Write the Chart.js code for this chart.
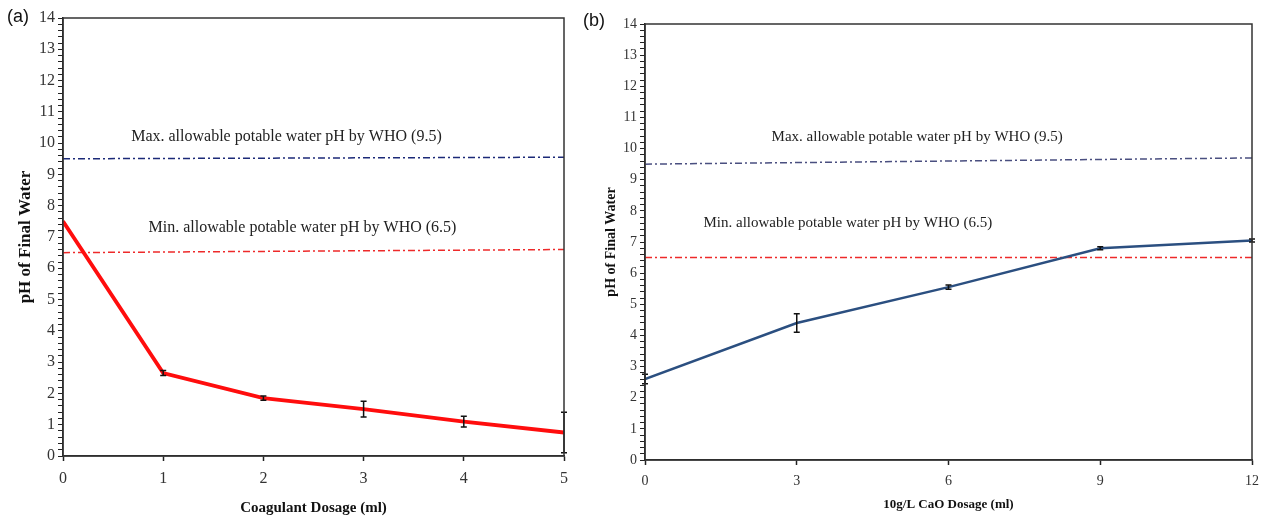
<!DOCTYPE html>
<html><head><meta charset="utf-8">
<script src="https://cdn.jsdelivr.net/npm/chart.js@4/dist/chart.umd.min.js"></script>
<style>
body{margin:0;background:#fff;width:1267px;height:521px;position:relative;overflow:hidden}
.panel{position:absolute;top:0;height:521px}
#pa{left:0;width:580px}
#pb{left:575px;width:692px}
</style></head><body>
<div class="panel" id="pa"><canvas id="ca"></canvas></div>
<div class="panel" id="pb"><canvas id="cb"></canvas></div>
<script>
// panel (a): coagulant dosage
const doseA = [0, 1, 2, 3, 4, 5];
const phA = [7.5, 2.65, 1.85, 1.5, 1.1, 0.75];
const errA = [0, 0.08, 0.07, 0.25, 0.17, 0.65];
const whoMaxA = [9.5, 9.55];   // at first and last dose
const whoMinA = [6.5, 6.6];

// panel (b): 10g/L CaO dosage
const doseB = [0, 3, 6, 9, 12];
const phB = [2.6, 4.4, 5.55, 6.8, 7.05];
const errB = [0.15, 0.3, 0.07, 0.05, 0.05];
const whoMaxB = [9.5, 9.7];
const whoMinB = [6.5, 6.5];

const phTicks = [0, 14];  // y range, labels every 1, minor ticks every 0.2
const maxText = 'Max. allowable potable water pH by WHO (9.5)';
const minText = 'Min. allowable potable water pH by WHO (6.5)';

const SERIF = '"Liberation Serif", "Times New Roman", serif';

// box round the plot area
const frame = {
  id: 'frame',
  afterDraw(chart) {
    const a = chart.chartArea, ctx = chart.ctx;
    ctx.save();
    ctx.strokeStyle = '#333';
    ctx.lineWidth = 1.5;
    ctx.strokeRect(a.left, a.top, a.right - a.left, a.bottom - a.top);
    ctx.restore();
  }
};

// vertical error bars on the first dataset
const errbars = {
  id: 'errbars',
  afterDatasetsDraw(chart, args, opts) {
    const meta = chart.getDatasetMeta(0);
    const ys = chart.scales.y, ctx = chart.ctx;
    const data = chart.data.datasets[0].data;
    ctx.save();
    ctx.strokeStyle = '#111';
    ctx.lineWidth = 1.5;
    meta.data.forEach((pt, i) => {
      const e = opts.err[i];
      if (!e) return;
      const y1 = ys.getPixelForValue(data[i].y - e);
      const y2 = ys.getPixelForValue(data[i].y + e);
      ctx.beginPath();
      ctx.moveTo(pt.x, y1); ctx.lineTo(pt.x, y2);
      ctx.moveTo(pt.x - 3, y1); ctx.lineTo(pt.x + 3, y1);
      ctx.moveTo(pt.x - 3, y2); ctx.lineTo(pt.x + 3, y2);
      ctx.stroke();
    });
    ctx.restore();
  }
};

// WHO notes and panel letter
const notes = {
  id: 'notes',
  afterDraw(chart, args, opts) {
    const ctx = chart.ctx, xs = chart.scales.x, ys = chart.scales.y;
    ctx.save();
    ctx.fillStyle = '#222';
    ctx.textAlign = 'center';
    ctx.textBaseline = 'middle';
    ctx.font = opts.font;
    opts.items.forEach(it => {
      ctx.fillText(it.text, xs.getPixelForValue(it.x), ys.getPixelForValue(it.y));
    });
    ctx.font = '18px "Liberation Sans", Arial, sans-serif';
    ctx.textAlign = 'left';
    ctx.fillStyle = '#111';
    ctx.fillText(opts.letter, opts.letterX, opts.letterY);
    ctx.restore();
  }
};

function makeChart(id, p) {
  const pts = p.dose.map((d, i) => ({ x: d, y: p.ph[i] }));
  const last = p.dose[p.dose.length - 1];
  const dash = (v) => [{ x: 0, y: v[0] }, { x: last, y: v[1] }];
  return new Chart(document.getElementById(id), {
    type: 'line',
    data: {
      datasets: [
        { data: pts, borderColor: p.color, borderWidth: p.width, pointRadius: 0, tension: 0 },
        { data: dash(p.whoMax), borderColor: p.maxColor, borderWidth: 1.5, borderDash: [7, 3, 2, 3], pointRadius: 0 },
        { data: dash(p.whoMin), borderColor: '#ee2a2a', borderWidth: 1.5, borderDash: [7, 3, 2, 3], pointRadius: 0 }
      ]
    },
    options: {
      responsive: true,
      maintainAspectRatio: false,
      animation: false,
      layout: { padding: p.pad },
      plugins: {
        legend: { display: false },
        tooltip: { enabled: false },
        errbars: { err: p.err },
        notes: { items: p.notes, font: p.noteFont, letter: p.letter, letterX: p.letterX, letterY: p.letterY }
      },
      scales: {
        x: {
          type: 'linear', min: 0, max: last,
          afterFit: s => { s.height = p.xH; },
          border: { color: '#222', width: 1.5 },
          grid: { drawOnChartArea: false, tickLength: 5, color: '#222', tickWidth: 1.5 },
          ticks: { stepSize: p.xStep, color: '#333', padding: 8, font: { family: SERIF, size: p.tickSize }, maxRotation: 0 },
          title: { display: true, text: p.xTitle, color: '#111', font: { family: SERIF, size: p.titleSize, weight: 'bold' }, padding: { top: 2, bottom: p.xTitleBottom } }
        },
        y: {
          min: phTicks[0], max: phTicks[1],
          afterFit: s => { s.width = p.yW; },
          border: { color: '#222', width: 1.5 },
          grid: { drawOnChartArea: false, tickLength: 5, color: '#222', tickWidth: 1 },
          ticks: {
            stepSize: 0.2, autoSkip: false, color: '#333', padding: 3,
            font: { family: SERIF, size: p.tickSize },
            callback: v => Math.abs(v - Math.round(v)) < 1e-6 ? String(Math.round(v)) : ''
          },
          title: { display: true, text: 'pH of Final Water', color: '#111', font: { family: SERIF, size: p.yTitleSize, weight: 'bold' }, padding: p.yTitlePad }
        }
      }
    },
    plugins: [frame, errbars, notes]
  });
}

makeChart('ca', {
  dose: doseA, ph: phA, err: errA, whoMax: whoMaxA, whoMin: whoMinA,
  color: '#ff0d0d', width: 3.8, maxColor: '#1c2a78',
  pad: { left: 0, right: 16, top: 18, bottom: 0 },
  xH: 65, yW: 63, xStep: 1, tickSize: 16, titleSize: 15, yTitleSize: 17,
  yTitlePad: { top: 15, bottom: 0 }, xTitleBottom: 4,
  xTitle: 'Coagulant Dosage (ml)',
  noteFont: '16px ' + SERIF,
  notes: [{ text: maxText, x: 2.23, y: 10.2 }, { text: minText, x: 2.39, y: 7.3 }],
  letter: '(a)', letterX: 7, letterY: 17
});

makeChart('cb', {
  dose: doseB, ph: phB, err: errB, whoMax: whoMaxB, whoMin: whoMinB,
  color: '#2b4f80', width: 2.5, maxColor: '#4a4f80',
  pad: { left: 0, right: 15, top: 24, bottom: 0 },
  xH: 61, yW: 70, xStep: 3, tickSize: 14, titleSize: 13, yTitleSize: 14,
  yTitlePad: { top: 28, bottom: 0 }, xTitleBottom: 9,
  xTitle: '10g/L CaO Dosage (ml)',
  noteFont: '15px ' + SERIF,
  notes: [{ text: maxText, x: 5.38, y: 10.37 }, { text: minText, x: 4.01, y: 7.6 }],
  letter: '(b)', letterX: 8, letterY: 21
});
</script>
</body></html>
